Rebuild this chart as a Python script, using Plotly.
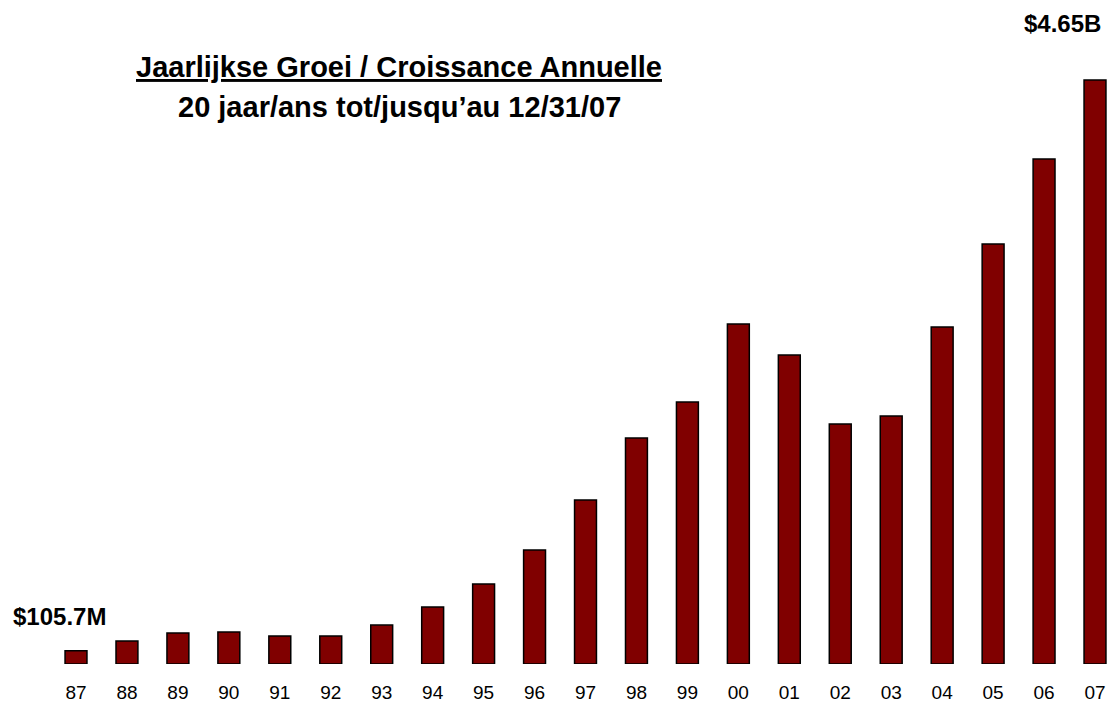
import plotly.graph_objects as go

years = ["87", "88", "89", "90", "91", "92", "93", "94", "95", "96", "97",
         "98", "99", "00", "01", "02", "03", "04", "05", "06", "07"]
assets_musd = [105.7, 183, 247, 255, 223, 223, 310, 454, 637, 908, 1306,
               1800, 2086, 2707, 2460, 1911, 1975, 2683, 3344, 4021, 4650]
first_label = "$105.7M"
last_label = "$4.65B"
title1 = "Jaarlijkse Groei / Croissance Annuelle"
title2 = "20 jaar/ans tot/jusqu\u2019au 12/31/07"

xpos = list(range(len(years)))
W, H = 1111, 702

fig = go.Figure()
fig.add_trace(go.Bar(
    x=xpos, y=assets_musd, width=0.43,
    marker=dict(color="#800000", line=dict(color="#000000", width=1.5)),
    hoverinfo="y",
))

font = "Liberation Sans, Arial, sans-serif"
fig.update_layout(
    width=W, height=H,
    margin=dict(l=0, r=0, t=0, b=38),
    paper_bgcolor="white", plot_bgcolor="white",
    showlegend=False,
    xaxis=dict(range=[-1.4917, 20.314], tickvals=xpos, ticktext=years,
               showgrid=False, zeroline=False, showline=False, ticks="",
               ticklabelstandoff=15,
               tickfont=dict(family=font, size=19, color="black")),
    yaxis=dict(range=[0, 5287], visible=False),
    annotations=[
        dict(x=11 / W, y=1, xref="paper", yref="paper", xanchor="left", yanchor="middle",
             text="<b>" + first_label + "</b>", showarrow=False,
             font=dict(family=font, size=24, color="black"), yshift=-616),
        dict(x=1103 / W, y=1, xref="paper", yref="paper", xanchor="right", yanchor="middle",
             text="<b>" + last_label + "</b>", showarrow=False,
             font=dict(family=font, size=24, color="black"), yshift=-23),
        dict(x=399 / W, y=1, xref="paper", yref="paper", xanchor="center", yanchor="middle",
             text="<b><u>" + title1 + "</u></b>", showarrow=False,
             font=dict(family=font, size=29, color="black"), yshift=-67),
        dict(x=399 / W, y=1, xref="paper", yref="paper", xanchor="center", yanchor="middle",
             text="<b>" + title2 + "</b>", showarrow=False,
             font=dict(family=font, size=29, color="black"), yshift=-107),
    ],
)

fig.write_html("out.html", config={"displayModeBar": False},
               post_script="document.body.style.margin='0';document.body.style.overflow='hidden';")
